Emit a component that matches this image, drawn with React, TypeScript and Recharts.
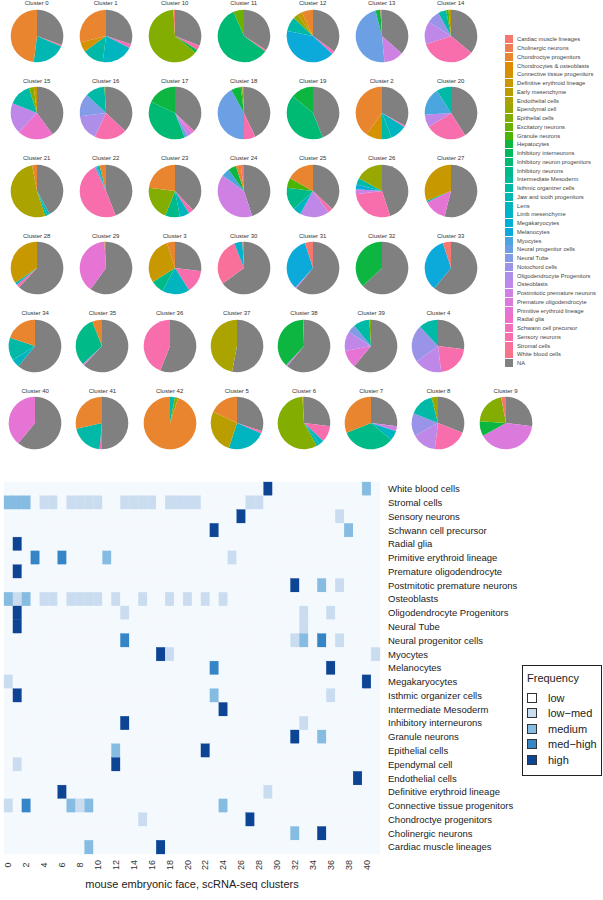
import React from 'react';
import { PieChart, Pie, Cell, ScatterChart, Scatter, XAxis, YAxis } from 'recharts';

// legend order of the pie categories (NA is added at the end)
const cellTypes = [
  'Cardiac muscle lineages', 'Cholinergic neurons', 'Chondroctye progenitors', 'Chondrocytes & osteoblasts',
  'Connective tissue progenitors', 'Definitive erythroid lineage', 'Early mesenchyme', 'Endothelial cells',
  'Ependymal cell', 'Epithelial cells', 'Excitatory neurons', 'Granule neurons', 'Hepatocytes',
  'Inhibitory interneurons', 'Inhibitory neuron progenitors', 'Inhibitory neurons', 'Intermediate Mesoderm',
  'Isthmic organizer cells', 'Jaw and tooth progenitors', 'Lens', 'Limb mesenchyme', 'Megakaryocytes',
  'Melanocytes', 'Myocytes', 'Neural progenitor cells', 'Neural Tube', 'Notochord cells',
  'Oligodendrocyte Progenitors', 'Osteoblasts', 'Postmitotic premature neurons', 'Premature oligodendrocyte',
  'Primitive erythroid lineage', 'Radial glia', 'Schwann cell precursor', 'Sensory neurons', 'Stromal cells',
  'White blood cells',
];

type Share = [string, number];
interface PieSpec { cluster: string; shares: Share[] }

const pieRow1: PieSpec[] = [
  { cluster: '0', shares: [['NA', 30.5], ['Stromal cells', 1], ['Jaw and tooth progenitors', 20.5], ['Chondroctye progenitors', 48]] },
  { cluster: '1', shares: [['NA', 30], ['Schwann cell precursor', 2.5], ['Lens', 19.5], ['Isthmic organizer cells', 13], ['Connective tissue progenitors', 6], ['Chondroctye progenitors', 29]] },
  { cluster: '10', shares: [['NA', 31], ['Sensory neurons', 3], ['Hepatocytes', 2], ['Epithelial cells', 63], ['Cardiac muscle lineages', 1]] },
  { cluster: '11', shares: [['NA', 34], ['Stromal cells', 1], ['Inhibitory neuron progenitors', 58.5], ['Excitatory neurons', 6.5]] },
  { cluster: '12', shares: [['NA', 35], ['Schwann cell precursor', 2], ['Melanocytes', 41], ['Isthmic organizer cells', 9], ['Ependymal cell', 3], ['Definitive erythroid lineage', 3], ['Chondroctye progenitors', 7]] },
  { cluster: '13', shares: [['NA', 36.5], ['Postmitotic premature neurons', 12], ['Neural progenitor cells', 47.5], ['Hepatocytes', 3], ['Cardiac muscle lineages', 1]] },
  { cluster: '14', shares: [['NA', 36], ['Sensory neurons', 34], ['Osteoblasts', 14], ['Notochord cells', 8], ['Isthmic organizer cells', 5], ['Granule neurons', 1.5], ['Definitive erythroid lineage', 1.5]] },
];

const pieRow2: PieSpec[] = [
  { cluster: '15', shares: [['NA', 40], ['Radial glia', 22], ['Osteoblasts', 19], ['Isthmic organizer cells', 14], ['Epithelial cells', 3], ['Definitive erythroid lineage', 2]] },
  { cluster: '16', shares: [['NA', 37], ['Sensory neurons', 20], ['Oligodendrocyte Progenitors', 16], ['Neural Tube', 14], ['Isthmic organizer cells', 12], ['Epithelial cells', 1]] },
  { cluster: '17', shares: [['NA', 37], ['Radial glia', 2], ['Postmitotic premature neurons', 3], ['Neural progenitor cells', 2], ['Inhibitory neuron progenitors', 38], ['Hepatocytes', 18]] },
  { cluster: '18', shares: [['NA', 43], ['Sensory neurons', 7], ['Neural progenitor cells', 42], ['Hepatocytes', 6], ['Granule neurons', 1], ['Chondroctye progenitors', 1]] },
  { cluster: '19', shares: [['NA', 44], ['Inhibitory neuron progenitors', 42], ['Hepatocytes', 14]] },
  { cluster: '2', shares: [['NA', 33], ['Schwann cell precursor', 1], ['Lens', 10], ['Isthmic organizer cells', 6], ['Connective tissue progenitors', 10], ['Chondroctye progenitors', 40]] },
  { cluster: '20', shares: [['NA', 41], ['Sensory neurons', 25], ['Osteoblasts', 8], ['Myocytes', 17], ['Isthmic organizer cells', 9]] },
];

const pieRow3: PieSpec[] = [
  { cluster: '21', shares: [['NA', 42], ['Lens', 1.5], ['Isthmic organizer cells', 1.5], ['Endothelial cells', 52], ['Chondroctye progenitors', 3]] },
  { cluster: '22', shares: [['NA', 44], ['Sensory neurons', 49], ['Myocytes', 1.5], ['Isthmic organizer cells', 1.5], ['Chondroctye progenitors', 4]] },
  { cluster: '23', shares: [['NA', 38], ['Sensory neurons', 3], ['Lens', 6], ['Inhibitory neurons', 9], ['Epithelial cells', 21], ['Chondroctye progenitors', 23]] },
  { cluster: '24', shares: [['NA', 45], ['Postmitotic premature neurons', 40], ['Myocytes', 5], ['Hepatocytes', 5], ['Chondroctye progenitors', 3], ['Cardiac muscle lineages', 2]] },
  { cluster: '25', shares: [['NA', 37], ['Sensory neurons', 3], ['Osteoblasts', 18], ['Lens', 5], ['Inhibitory neurons', 14], ['Granule neurons', 6], ['Chondroctye progenitors', 17]] },
  { cluster: '26', shares: [['NA', 45], ['Sensory neurons', 28], ['Postmitotic premature neurons', 3], ['Melanocytes', 3], ['Isthmic organizer cells', 4], ['Ependymal cell', 17]] },
  { cluster: '27', shares: [['NA', 54], ['Primitive erythroid lineage', 14], ['Isthmic organizer cells', 1], ['Definitive erythroid lineage', 31]] },
];

const pieRow4: PieSpec[] = [
  { cluster: '28', shares: [['NA', 62], ['Sensory neurons', 2], ['Lens', 1.5], ['Definitive erythroid lineage', 34.5]] },
  { cluster: '29', shares: [['NA', 60], ['Primitive erythroid lineage', 39], ['Definitive erythroid lineage', 1]] },
  { cluster: '3', shares: [['NA', 27], ['Sensory neurons', 14], ['Lens', 17], ['Inhibitory neurons', 8], ['Definitive erythroid lineage', 29], ['Chondroctye progenitors', 5]] },
  { cluster: '30', shares: [['NA', 65], ['Stromal cells', 29], ['Limb mesenchyme', 5], ['Cardiac muscle lineages', 1]] },
  { cluster: '31', shares: [['NA', 61], ['Postmitotic premature neurons', 0.8], ['Melanocytes', 33.2], ['Cardiac muscle lineages', 5]] },
  { cluster: '32', shares: [['NA', 63], ['Hepatocytes', 37]] },
  { cluster: '33', shares: [['NA', 61], ['Melanocytes', 34], ['Cardiac muscle lineages', 5]] },
];

const pieRow5: PieSpec[] = [
  { cluster: '34', shares: [['NA', 61], ['Lens', 5], ['Isthmic organizer cells', 14], ['Chondroctye progenitors', 20]] },
  { cluster: '35', shares: [['NA', 62], ['Postmitotic premature neurons', 1], ['Inhibitory neurons', 31], ['Chondroctye progenitors', 6]] },
  { cluster: '36', shares: [['NA', 56], ['Sensory neurons', 44]] },
  { cluster: '37', shares: [['NA', 53], ['Endothelial cells', 47]] },
  { cluster: '38', shares: [['NA', 61], ['Postmitotic premature neurons', 1], ['Hepatocytes', 37.5], ['Epithelial cells', 0.5]] },
  { cluster: '39', shares: [['NA', 61], ['Primitive erythroid lineage', 11], ['Osteoblasts', 12], ['Neural Tube', 5], ['Isthmic organizer cells', 10], ['Epithelial cells', 1]] },
  { cluster: '4', shares: [['NA', 27], ['Sensory neurons', 21], ['Osteoblasts', 17], ['Notochord cells', 23], ['Isthmic organizer cells', 12]] },
];

const pieRow6: PieSpec[] = [
  { cluster: '40', shares: [['NA', 61], ['Primitive erythroid lineage', 39]] },
  { cluster: '41', shares: [['NA', 50], ['Sensory neurons', 1.5], ['Isthmic organizer cells', 20], ['Chondroctye progenitors', 28.5]] },
  { cluster: '42', shares: [['Isthmic organizer cells', 3], ['Epithelial cells', 2], ['Chondroctye progenitors', 95]] },
  { cluster: '5', shares: [['NA', 30], ['Sensory neurons', 1.5], ['Lens', 23.5], ['Early mesenchyme', 27], ['Chondroctye progenitors', 18]] },
  { cluster: '6', shares: [['NA', 27], ['Sensory neurons', 10], ['Lens', 3], ['Isthmic organizer cells', 2], ['Epithelial cells', 57], ['Definitive erythroid lineage', 1]] },
  { cluster: '7', shares: [['NA', 27], ['Postmitotic premature neurons', 3], ['Lens', 6], ['Inhibitory neurons', 33], ['Chondroctye progenitors', 31]] },
  { cluster: '8', shares: [['NA', 31], ['Sensory neurons', 21], ['Osteoblasts', 15], ['Notochord cells', 14], ['Isthmic organizer cells', 15], ['Ependymal cell', 4]] },
  { cluster: '9', shares: [['NA', 27], ['Premature oligodendrocyte', 40], ['Hepatocytes', 9], ['Epithelial cells', 21], ['Cardiac muscle lineages', 3]] },
];

// heatmap: rows top to bottom, clusters left to right
const heatRows = [
  'White blood cells', 'Stromal cells', 'Sensory neurons', 'Schwann cell precursor', 'Radial glia',
  'Primitive erythroid lineage', 'Premature oligodendrocyte', 'Postmitotic premature neurons', 'Osteoblasts',
  'Oligodendrocyte Progenitors', 'Neural Tube', 'Neural progenitor cells', 'Myocytes', 'Melanocytes',
  'Megakaryocytes', 'Isthmic organizer cells', 'Intermediate Mesoderm', 'Inhibitory interneurons',
  'Granule neurons', 'Epithelial cells', 'Ependymal cell', 'Endothelial cells', 'Definitive erythroid lineage',
  'Connective tissue progenitors', 'Chondroctye progenitors', 'Cholinergic neurons', 'Cardiac muscle lineages',
];
const heatClusters = [0, 1, 2, 3, 4, 5, 6, 7, 8, 9, 10, 11, 12, 13, 14, 15, 16, 17, 18, 19, 20, 21, 22, 23, 24, 25, 26, 27, 28, 29, 30, 31, 32, 33, 34, 35, 36, 37, 38, 39, 40, 41];
const xTicks = [0, 2, 4, 6, 8, 10, 12, 14, 16, 18, 20, 22, 24, 26, 28, 30, 32, 34, 36, 38, 40];
const freqLevels = ['low', 'low\u2212med', 'medium', 'med\u2212high', 'high'];

// [row, cluster, level]; every other cell is "low"
const heatCells: [string, number, number][] = [
  ['White blood cells', 29, 4], ['White blood cells', 40, 2],
  ['Stromal cells', 0, 2], ['Stromal cells', 1, 2], ['Stromal cells', 2, 2], ['Stromal cells', 4, 1], ['Stromal cells', 5, 1],
  ['Stromal cells', 7, 1], ['Stromal cells', 8, 1], ['Stromal cells', 9, 1], ['Stromal cells', 10, 1], ['Stromal cells', 13, 1],
  ['Stromal cells', 14, 1], ['Stromal cells', 15, 1], ['Stromal cells', 16, 1], ['Stromal cells', 18, 1], ['Stromal cells', 19, 1],
  ['Stromal cells', 20, 1], ['Stromal cells', 21, 1], ['Stromal cells', 27, 1], ['Stromal cells', 28, 1],
  ['Sensory neurons', 26, 4], ['Sensory neurons', 37, 1],
  ['Schwann cell precursor', 23, 4], ['Schwann cell precursor', 38, 2],
  ['Radial glia', 1, 4],
  ['Primitive erythroid lineage', 3, 3], ['Primitive erythroid lineage', 6, 3], ['Primitive erythroid lineage', 11, 2], ['Primitive erythroid lineage', 25, 1],
  ['Premature oligodendrocyte', 1, 4],
  ['Postmitotic premature neurons', 32, 4], ['Postmitotic premature neurons', 35, 2], ['Postmitotic premature neurons', 37, 1],
  ['Osteoblasts', 0, 2], ['Osteoblasts', 1, 1], ['Osteoblasts', 2, 2], ['Osteoblasts', 4, 1], ['Osteoblasts', 5, 1], ['Osteoblasts', 7, 1],
  ['Osteoblasts', 8, 1], ['Osteoblasts', 9, 1], ['Osteoblasts', 10, 1], ['Osteoblasts', 12, 1], ['Osteoblasts', 15, 1], ['Osteoblasts', 18, 1],
  ['Osteoblasts', 20, 1], ['Osteoblasts', 22, 1], ['Osteoblasts', 24, 1],
  ['Oligodendrocyte Progenitors', 1, 4], ['Oligodendrocyte Progenitors', 13, 1], ['Oligodendrocyte Progenitors', 33, 1], ['Oligodendrocyte Progenitors', 36, 1],
  ['Neural Tube', 1, 4], ['Neural Tube', 33, 1],
  ['Neural progenitor cells', 13, 3], ['Neural progenitor cells', 32, 1], ['Neural progenitor cells', 33, 2], ['Neural progenitor cells', 35, 3], ['Neural progenitor cells', 37, 1],
  ['Myocytes', 17, 4], ['Myocytes', 18, 1], ['Myocytes', 41, 1],
  ['Melanocytes', 23, 3], ['Melanocytes', 36, 4],
  ['Megakaryocytes', 0, 1], ['Megakaryocytes', 40, 4],
  ['Isthmic organizer cells', 1, 4], ['Isthmic organizer cells', 23, 2], ['Isthmic organizer cells', 36, 1],
  ['Intermediate Mesoderm', 24, 4],
  ['Inhibitory interneurons', 13, 4], ['Inhibitory interneurons', 33, 1],
  ['Granule neurons', 32, 4], ['Granule neurons', 35, 2],
  ['Epithelial cells', 12, 2], ['Epithelial cells', 22, 4],
  ['Ependymal cell', 1, 1], ['Ependymal cell', 12, 4],
  ['Endothelial cells', 39, 4],
  ['Definitive erythroid lineage', 6, 4], ['Definitive erythroid lineage', 29, 1],
  ['Connective tissue progenitors', 0, 1], ['Connective tissue progenitors', 2, 3], ['Connective tissue progenitors', 7, 2],
  ['Connective tissue progenitors', 8, 1], ['Connective tissue progenitors', 9, 2], ['Connective tissue progenitors', 24, 2],
  ['Chondroctye progenitors', 15, 1], ['Chondroctye progenitors', 27, 4],
  ['Cholinergic neurons', 32, 2], ['Cholinergic neurons', 35, 4],
  ['Cardiac muscle lineages', 9, 2], ['Cardiac muscle lineages', 17, 4],
];

const FONT = '"Liberation Sans", Arial, Helvetica, sans-serif';
const freqColors = ['#F4F9FE', '#CADDF0', '#86BCE1', '#3585C7', '#0D4594'];

// hue palette; chroma eased off on the blue side, like the reference
function hcl(h: number, l = 65): string {
  const c = 84 + 16 * Math.cos(((h - 60) * Math.PI) / 180);
  const hr = (h * Math.PI) / 180;
  const U = c * Math.cos(hr);
  const V = c * Math.sin(hr);
  const Y = l > 8 ? Math.pow((l + 16) / 116, 3) : l / 903.3;
  const u = U / (13 * l) + 0.1978398;
  const v = V / (13 * l) + 0.4683363;
  const X = (9 * Y * u) / (4 * v);
  const Z = (Y * (12 - 3 * u - 20 * v)) / (4 * v);
  const lin = [
    3.240479 * X - 1.53715 * Y - 0.498535 * Z,
    -0.969256 * X + 1.875992 * Y + 0.041556 * Z,
    0.055648 * X - 0.204043 * Y + 1.057311 * Z,
  ];
  return '#' + lin.map((x) => {
    const g = x <= 0.0031308 ? 12.92 * x : 1.055 * Math.pow(x, 1 / 2.4) - 0.055;
    return Math.round(Math.min(1, Math.max(0, g)) * 255).toString(16).padStart(2, '0');
  }).join('');
}

const typeColors: Record<string, string> = { NA: '#808080' };
cellTypes.forEach((t, i) => { typeColors[t] = hcl(15 + (360 * i) / cellTypes.length); });

// clockwise from 12 o'clock: NA first, then legend order reversed
const sliceOrder = ['NA', ...cellTypes.slice().reverse()];
const toSlices = (shares: Share[]) =>
  sliceOrder.filter((n) => shares.some((s) => s[0] === n))
    .map((n) => ({ name: n, value: shares.find((s) => s[0] === n)![1] }));

const R = 26.3;

function ClusterPie({ spec, cx, cy }: { spec: PieSpec; cx: number; cy: number }) {
  const data = toSlices(spec.shares);
  return (
    <>
      <div style={{ position: 'absolute', left: cx - 35, top: cy - R - 10, width: 70, textAlign: 'center', fontSize: 6, lineHeight: '8px', color: '#333' }}>
        Cluster {spec.cluster}
      </div>
      <div style={{ position: 'absolute', left: cx - 30, top: cy - 30 }}>
        <PieChart width={60} height={60} margin={{ top: 0, right: 0, bottom: 0, left: 0 }}>
          <Pie data={data} dataKey="value" nameKey="name" cx={30} cy={30} innerRadius={0} outerRadius={R}
            startAngle={90} endAngle={-270} stroke="none" isAnimationActive={false}>
            {data.map((d) => <Cell key={d.name} fill={typeColors[d.name]} />)}
          </Pie>
        </PieChart>
      </div>
    </>
  );
}

const rowY = [35.5, 113, 190.5, 268, 345.5, 423];
const pieRows = [pieRow1, pieRow2, pieRow3, pieRow4, pieRow5, pieRow6];

// heatmap geometry
const H_TOP = 470;
const H_W = 603;
const H_H = 428;
const M_LEFT = 4;
const Y_W = 223;
const M_TOP = 12;
const X_H = 44;
const CELL_W = (H_W - M_LEFT - Y_W) / heatClusters.length;
const CELL_H = (H_H - M_TOP - X_H) / heatRows.length;

const levelOf = new Map(heatCells.map(([r, c, l]) => [r + '|' + c, l]));
const heatData = heatRows.flatMap((row, ri) =>
  heatClusters.map((c) => ({ x: c, y: ri, level: levelOf.get(row + '|' + c) ?? 0 })));

const HeatCell = (props: any) => {
  const { cx, cy, payload } = props;
  const col = freqColors[payload.level];
  return <rect x={cx - CELL_W / 2} y={cy - CELL_H / 2} width={CELL_W} height={CELL_H} fill={col} stroke={col} strokeWidth={0.3} />;
};

const XTick = (props: any) => {
  const { x, y, payload } = props;
  return (
    <text x={0} y={0} transform={`translate(${x},${y + 3}) rotate(-90)`} textAnchor="middle" dominantBaseline="central"
      fontSize={9} fill="#333" fontFamily={FONT}>{payload.value}</text>
  );
};

export default function App() {
  return (
    <div style={{ position: 'relative', width: 603, height: 900, background: '#fff', fontFamily: FONT, overflow: 'hidden' }}>
      <style>{'body{margin:0}'}</style>

      {pieRows.map((row, ri) =>
        row.map((spec, ci) => {
          const cx = ri < 4 ? 36.7 + 69 * ci : 35.2 + 67.2 * ci;
          return <ClusterPie key={spec.cluster} spec={spec} cx={cx} cy={rowY[ri]} />;
        }))}

      <div style={{ position: 'absolute', left: 505, top: 35 }}>
        {[...cellTypes, 'NA'].map((t) => (
          <div key={t} style={{ display: 'flex', alignItems: 'center', height: 8.76 }}>
            <div style={{ width: 8, height: 8, background: typeColors[t] }} />
            <span style={{ marginLeft: 4, fontSize: 5.8, color: '#444', whiteSpace: 'nowrap' }}>{t}</span>
          </div>
        ))}
      </div>

      <div style={{ position: 'absolute', left: 0, top: H_TOP }}>
        <ScatterChart width={H_W} height={H_H} margin={{ top: M_TOP, right: 0, bottom: 0, left: M_LEFT }}>
          <XAxis type="number" dataKey="x" domain={[-0.5, heatClusters.length - 0.5]} ticks={xTicks} interval={0}
            axisLine={false} tickLine={false} height={X_H} tick={<XTick />}
            label={{ value: 'mouse embryonic face, scRNA-seq clusters', position: 'insideBottom', offset: 10, fontSize: 11, fill: '#222' }} />
          <YAxis type="number" dataKey="y" domain={[-0.5, heatRows.length - 0.5]} reversed orientation="right" width={Y_W}
            ticks={heatRows.map((_, i) => i)} interval={0} axisLine={false} tickLine={false}
            tickFormatter={(v: number) => heatRows[v]} tick={{ fontSize: 9.5, fill: '#222', textAnchor: 'start' }} />
          <Scatter data={heatData} shape={HeatCell} isAnimationActive={false} />
        </ScatterChart>
      </div>

      <div style={{ position: 'absolute', left: 522, top: 665, width: 80, height: 111, border: '1.3px solid #222', boxSizing: 'border-box', color: '#222' }}>
        <div style={{ position: 'absolute', left: 4, top: 6, fontSize: 11 }}>Frequency</div>
        {freqLevels.map((lv, i) => (
          <div key={lv} style={{ position: 'absolute', left: 4, top: 26 + i * 15.6, display: 'flex', alignItems: 'center', height: 11 }}>
            <div style={{ width: 8, height: 8, background: i === 0 ? '#fff' : freqColors[i], border: '1px solid #333' }} />
            <span style={{ marginLeft: 11, fontSize: 11 }}>{lv}</span>
          </div>
        ))}
      </div>
    </div>
  );
}
